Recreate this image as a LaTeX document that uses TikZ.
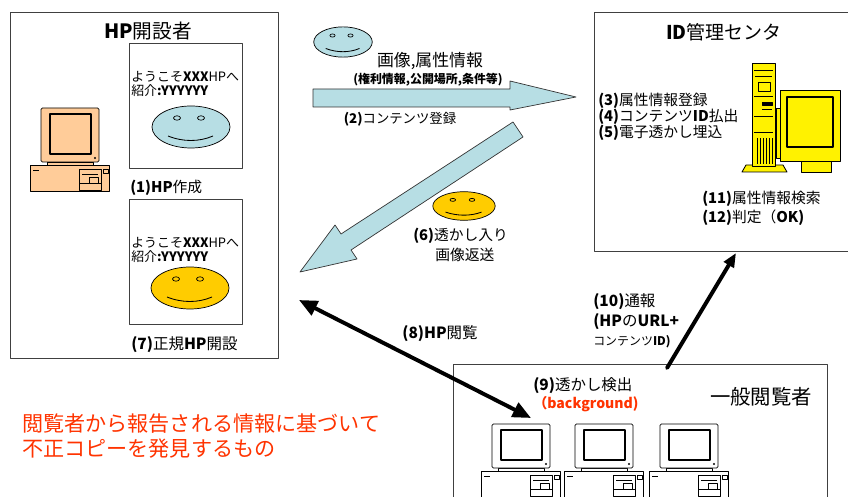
\documentclass[tikz,border=0pt]{standalone}
\usepackage{fontspec}
\setmainfont{Noto Sans CJK JP}
\usetikzlibrary{arrows.meta}

\definecolor{skyface}{RGB}{183,222,228}
\definecolor{goldface}{RGB}{255,204,0}
\definecolor{peach}{RGB}{255,204,153}
\definecolor{alertred}{RGB}{255,51,0}

\tikzset{
  party/.style={draw=black!75, line width=0.6pt},
  sheet/.style={draw=black!75, line width=0.6pt, fill=white},
  blockarrow/.style={draw=black!80, line width=0.5pt, fill=skyface},
  thickarrow/.style={line width=2.8pt, line cap=round},
  txt/.style={inner sep=0pt, font=\fontsize{11}{13}\selectfont},
  txtw/.style={txt, anchor=west, align=left},
  pics/smiley/.style={code={
    \draw[fill=#1, line width=0.5pt] (0,0) ellipse [x radius=39, y radius=21];
    \draw[fill=#1, line width=0.5pt] (-14,-9) ellipse [x radius=3.5, y radius=2.2];
    \draw[fill=#1, line width=0.5pt] (10,-9) ellipse [x radius=3.5, y radius=2.2];
    \draw[line width=0.6pt] (-23,9) .. controls (-8,15) and (8,15) .. (22,9);
  }},
  pics/desktop/.style 2 args={code={
    \draw[fill=#1] (-11,#2+3) rectangle (68,#2+29);
    \draw (-8,#2+8) -- (-2,#2+8);
    \draw (38,#2+7) rectangle (60,#2+28);
    \draw (41,#2+12) -- (57,#2+12);
    \draw (48,#2+15) rectangle (57,#2+21);
    \draw (38,#2+21) -- (60,#2+21);
    \draw (62,#2+7) rectangle (67,#2+11);
    \draw[fill=#1] (6,#2) rectangle (52,#2+3);
    \draw[fill=#1, rounded corners=1] (0,0) rectangle (58,#2);
    \draw[fill=#1, line width=0.9pt] (9,6) rectangle (50,#2-8);
    \fill (54,#2-4) circle [radius=1.2];
  }}
}

\begin{document}
\begin{tikzpicture}[x=0.025cm, y=-0.025cm, line join=round]
  \useasboundingbox (0,0) rectangle (848,497);

  % HP owner
  \draw[party] (10,12) rectangle (278,358);
  \node[txt, font=\fontsize{14}{16}\selectfont] (owner) at (148,31) {\textbf{HP}開設者};
  \pic[line width=0.5pt] at (41,108) {desktop={peach}{54}};
  \draw[sheet] (129,43) rectangle (242,168);
  \node[txtw, font=\fontsize{9.2}{10}\selectfont] (page-a) at (131,84)
    {ようこそ\textbf{XXX}HPへ\\紹介\textbf{:YYYYYY}};
  \pic at (191,127) {smiley=skyface};
  \node[txtw, font=\fontsize{10.5}{12}\selectfont] (make) at (130,188) {\textbf{(1)HP}作成};
  \draw[sheet] (129,199) rectangle (242,324);
  \node[txtw, font=\fontsize{9.2}{10}\selectfont] (page-b) at (131,250)
    {ようこそ\textbf{XXX}HPへ\\紹介\textbf{:YYYYYY}};
  \pic at (190,288) {smiley=goldface};
  \node[txtw] (open) at (131,345) {\textbf{(7)}正規\textbf{HP}開設};

  % ID centre
  \draw[party] (848,12) -| (594,251) -- (848,251);
  \node[txt, font=\fontsize{13.5}{15}\selectfont] (center) at (724,32) {\textbf{ID}管理センタ};
  \node[txtw, font=\fontsize{10.5}{11.5}\selectfont] (reg) at (598,117)
    {\textbf{(3)}属性情報登録\\\textbf{(4)}コンテンツ\textbf{ID}払出\\\textbf{(5)}電子透かし埋込};
  \node[txtw, font=\fontsize{10.5}{13.5}\selectfont] (check) at (702,208)
    {\textbf{(11)}属性情報検索\\\textbf{(12)}判定（\textbf{OK)}};
  % server
  \begin{scope}[line width=0.6pt]
    \draw[fill=yellow] (742,172) -- (746,165) -- (783,165) -- (787,172) -- cycle;
    \draw[fill=yellow] (752,63) rectangle (775,166);
    \draw (754,70) -- (773,70) (755,76) -- (772,76) (754,96) -- (773,96) (754,116) -- (773,116)
      (754,132) -- (773,132);
    \draw[fill=yellow] (758,82) rectangle (770,91);
    \draw[fill=black] (762,102) rectangle (772,105);
    \draw (762,109) -- (772,109);
    \foreach \xx in {757,760,...,772} \draw (\xx,138) -- (\xx,164);
    \draw[fill=yellow] (776,108) rectangle (782,158);
    \draw[fill=yellow] (801,160) rectangle (831,172);
    \draw[fill=yellow] (780,90) rectangle (840,161);
    \draw[fill=yellow, line width=0.9pt] (787,97) rectangle (833,147);
  \end{scope}

  % viewers
  \draw[party] (453,497) |- (827,364) -- (827,497);
  \node[txt, font=\fontsize{14.5}{16}\selectfont] (viewer) at (761,397) {一般閲覧者};
  \node[txtw] (detect) at (533,395)
    {\textbf{(9)}透かし検出\\{\color{alertred}\bfseries\fontsize{10}{12}\selectfont （background)}};
  \foreach \xx in {492,575,660}
    \pic[line width=0.5pt] at (\xx,424) {desktop={white}{44}};

  % registration
  \draw[blockarrow] (313,89) -- (510,89) -- (510,81) -- (576,97) -- (510,110) -- (510,107)
    -- (313,107) -- cycle;
  \pic[xscale=0.75, yscale=0.72] at (343,42) {smiley=skyface};
  \node[txt, font=\fontsize{12}{14}\selectfont] (img-info) at (430,61) {画像,属性情報};
  \node[txt, font=\fontsize{8.5}{10}\selectfont\bfseries] (img-detail) at (428,80)
    {(権利情報,公開場所,条件等)};
  \node[txt, font=\fontsize{9.5}{11}\selectfont] (upload) at (400,119) {\textbf{(2)}コンテンツ登録};

  % watermarked image back
  \draw[blockarrow] (523,137) -- (513,122) -- (341,234) -- (335,225) -- (300,272) -- (357,259)
    -- (351,250) -- cycle;
  \pic[xscale=0.8, yscale=0.68] at (464,206) {smiley=goldface};
  \node[txtw, font=\fontsize{10.5}{14}\selectfont] (wm-back) at (413,245)
    {\textbf{(6)}透かし入り\\\hspace{1.5em}画像返送};

  % browsing
  \coordinate (hp-end) at (299,300);
  \coordinate (pc-end) at (531,418);
  \draw[thickarrow, {Triangle[length=13pt,width=11pt]}-{Triangle[length=13pt,width=11pt]}]
    (hp-end) -- (pc-end);
  \node[txt] (browse) at (440,334) {\textbf{(8)HP}閲覧};

  % report
  \coordinate (rep-start) at (667,368);
  \coordinate (rep-end) at (736,253);
  \draw[thickarrow, -{Triangle[length=10pt,width=8pt]}] (rep-start) -- (rep-end);
  \node[txtw, font=\fontsize{11}{14}\selectfont] (report) at (593,321)
    {\textbf{(10)}通報\\\textbf{(HP}の\textbf{URL+}\\{\fontsize{8.5}{12}\selectfont コンテンツ\textbf{ID)}}};

  % note
  \node[txtw, text=alertred, font=\fontsize{15}{17.7}\selectfont] (note) at (22,436)
    {閲覧者から報告される情報に基づいて\\不正コピーを発見するもの};
\end{tikzpicture}
\end{document}
